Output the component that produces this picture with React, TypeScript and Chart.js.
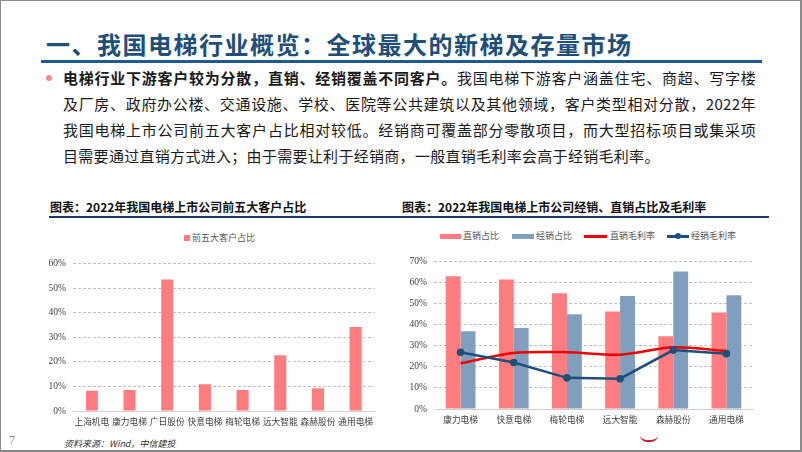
import React, { useEffect, useRef } from "react";
import { Chart, registerables } from "chart.js";

Chart.register(...registerables);

// ---------- data ----------
const leftCategories = ["上海机电", "康力电梯", "广日股份", "快意电梯", "梅轮电梯", "远大智能", "森赫股份", "通用电梯"];
const topFiveShare = [8.2, 8.6, 53.6, 10.9, 8.6, 22.7, 9.3, 34.2];
const leftLegendLabel = "前五大客户占比";
const leftYMax = 60;

const rightCategories = ["康力电梯", "快意电梯", "梅轮电梯", "远大智能", "森赫股份", "通用电梯"];
const directShare = [63.1, 61.5, 55.0, 46.3, 34.6, 45.9];
const distributorShare = [36.9, 38.5, 45.0, 53.7, 65.4, 54.1];
const directMargin = [21.7, 26.6, 27.0, 25.8, 29.3, 27.6];
const distributorMargin = [27.0, 22.1, 14.8, 14.4, 28.0, 26.3];
const rightSeriesLabels = ["直销占比", "经销占比", "直销毛利率", "经销毛利率"];
const rightYMax = 70;

const pageTitle = "一、我国电梯行业概览：全球最大的新梯及存量市场";
const leftChartTitle = "图表：2022年我国电梯上市公司前五大客户占比";
const rightChartTitle = "图表：2022年我国电梯上市公司经销、直销占比及毛利率";
const sourceText = "资料来源：Wind，中信建投";

// ---------- styles ----------
const CJK = '"Noto Sans CJK SC", sans-serif';
const SERIF = '"Liberation Serif", "Noto Sans CJK SC", serif';
const PINK = "#ff7c80";
const STEEL = "#809fbc";
const RED = "#f00000";
const NAVY = "#1f4e79";

function yAxis(max: number, width: number) {
  return {
    min: 0,
    max,
    ticks: {
      stepSize: 10,
      callback: (v: any) => v + "%",
      font: { family: SERIF, size: 9.5 },
      color: "#404040",
      padding: 7,
    },
    grid: { color: "#bfbfbf", drawTicks: false, lineWidth: 1 },
    border: { display: false, dash: [3, 2] },
    afterFit: (s: any) => {
      s.width = width;
    },
  };
}

function xAxis(height: number, pad: number) {
  return {
    grid: { display: false, drawTicks: false },
    border: { display: true, color: "#d0d0d0", width: 1 },
    ticks: {
      font: { family: CJK, size: 8.7 },
      color: "#404040",
      padding: pad,
      autoSkip: false,
      maxRotation: 0,
      minRotation: 0,
    },
    afterFit: (s: any) => {
      s.height = height;
    },
  };
}

export default function App() {
  const leftRef = useRef<HTMLCanvasElement>(null);
  const rightRef = useRef<HTMLCanvasElement>(null);

  useEffect(() => {
    const c1 = new Chart(leftRef.current as HTMLCanvasElement, {
      type: "bar",
      data: {
        labels: leftCategories,
        datasets: [
          {
            label: leftLegendLabel,
            data: topFiveShare,
            backgroundColor: PINK,
            barPercentage: 0.32,
            categoryPercentage: 1,
          },
        ],
      },
      options: {
        responsive: false,
        animation: false,
        devicePixelRatio: 1,
        layout: { padding: { top: 7, left: 0, right: 0, bottom: 0 } },
        plugins: { legend: { display: false }, tooltip: { enabled: false } },
        scales: {
          x: xAxis(22, 5) as any,
          y: yAxis(leftYMax, 52) as any,
        },
      },
    });

    const c2 = new Chart(rightRef.current as HTMLCanvasElement, {
      type: "bar",
      data: {
        labels: rightCategories,
        datasets: [
          {
            type: "bar",
            label: rightSeriesLabels[0],
            data: directShare,
            backgroundColor: PINK,
            barPercentage: 1,
            categoryPercentage: 0.56,
            order: 3,
          },
          {
            type: "bar",
            label: rightSeriesLabels[1],
            data: distributorShare,
            backgroundColor: STEEL,
            barPercentage: 1,
            categoryPercentage: 0.56,
            order: 3,
          },
          {
            type: "line",
            label: rightSeriesLabels[2],
            data: directMargin,
            borderColor: RED,
            backgroundColor: RED,
            borderWidth: 2.5,
            pointRadius: 0,
            tension: 0.3,
            order: 2,
          } as any,
          {
            type: "line",
            label: rightSeriesLabels[3],
            data: distributorMargin,
            borderColor: NAVY,
            backgroundColor: NAVY,
            borderWidth: 2.5,
            pointRadius: 3.8,
            pointBorderWidth: 0,
            tension: 0,
            order: 1,
          } as any,
        ],
      },
      options: {
        responsive: false,
        animation: false,
        devicePixelRatio: 1,
        layout: { padding: { top: 8, left: 0, right: 0, bottom: 0 } },
        plugins: { legend: { display: false }, tooltip: { enabled: false } },
        scales: {
          x: xAxis(22, 5) as any,
          y: yAxis(rightYMax, 33) as any,
        },
      },
    });

    return () => {
      c1.destroy();
      c2.destroy();
    };
  }, []);

  const bodyLine: React.CSSProperties = {
    position: "absolute",
    left: 62,
    width: 693,
    height: 26,
    lineHeight: "26px",
    fontSize: 15,
    letterSpacing: 0.3,
    color: "#1a1a1a",
    whiteSpace: "nowrap",
    textAlign: "justify",
    textAlignLast: "justify",
  };

  const legendText: React.CSSProperties = {
    position: "absolute",
    fontSize: 9,
    lineHeight: "12px",
    color: "#595959",
    fontFamily: CJK,
    whiteSpace: "nowrap",
  };

  return (
    <div
      style={{
        position: "fixed",
        left: 0,
        top: 0,
        width: 802,
        height: 452,
        background: "#fff",
        overflow: "hidden",
        fontFamily: CJK,
        boxSizing: "border-box",
        borderTop: "1px solid #8a8a8a",
        borderLeft: "1px solid #8a8a8a",
        borderRight: "2px solid #8a8a8a",
        borderBottom: "2px solid #8a8a8a",
      }}
    >
      {/* page title */}
      <div
        style={{
          position: "absolute",
          left: 45,
          top: 28,
          height: 30,
          lineHeight: "30px",
          fontSize: 24,
          fontWeight: 700,
          letterSpacing: 1.5,
          color: NAVY,
          whiteSpace: "nowrap",
        }}
      >
        {pageTitle}
      </div>
      <div style={{ position: "absolute", left: 40, top: 59, width: 721, height: 3, background: "#1f5a8e" }} />

      {/* bullet */}
      <div style={{ position: "absolute", left: 45, top: 74, width: 6, height: 6, borderRadius: 3, background: "#f08a8f" }} />

      <div style={{ ...bodyLine, top: 64 }}>
        <b>电梯行业下游客户较为分散，直销、经销覆盖不同客户。</b>我国电梯下游客户涵盖住宅、商超、写字楼
      </div>
      <div style={{ ...bodyLine, top: 90 }}>
        及厂房、政府办公楼、交通设施、学校、医院等公共建筑以及其他领域，客户类型相对分散，2022年
      </div>
      <div style={{ ...bodyLine, top: 116 }}>
        我国电梯上市公司前五大客户占比相对较低。经销商可覆盖部分零散项目，而大型招标项目或集采项
      </div>
      <div style={{ ...bodyLine, top: 142, textAlign: "left", textAlignLast: "left" }}>
        目需要通过直销方式进入；由于需要让利于经销商，一般直销毛利率会高于经销毛利率。
      </div>

      {/* chart headings */}
      <div
        style={{
          position: "absolute",
          left: 49,
          top: 198,
          lineHeight: "16px",
          fontSize: 12,
          fontWeight: 700,
          color: "#111",
          whiteSpace: "nowrap",
        }}
      >
        {leftChartTitle}
      </div>
      <div
        style={{
          position: "absolute",
          left: 401,
          top: 198,
          lineHeight: "16px",
          fontSize: 12,
          fontWeight: 700,
          color: "#111",
          whiteSpace: "nowrap",
        }}
      >
        {rightChartTitle}
      </div>
      <div style={{ position: "absolute", left: 48, top: 215, width: 720, height: 2, background: "#1f3864" }} />

      {/* left legend */}
      <div style={{ position: "absolute", left: 183, top: 234, width: 6, height: 6, background: PINK }} />
      <div style={{ ...legendText, left: 191, top: 231 }}>{leftLegendLabel}</div>

      {/* right legend */}
      <div style={{ position: "absolute", left: 439, top: 233, width: 21, height: 5, background: PINK }} />
      <div style={{ ...legendText, left: 462, top: 229 }}>{rightSeriesLabels[0]}</div>
      <div style={{ position: "absolute", left: 511, top: 233, width: 22, height: 5, background: STEEL }} />
      <div style={{ ...legendText, left: 535, top: 229 }}>{rightSeriesLabels[1]}</div>
      <div style={{ position: "absolute", left: 583, top: 234, width: 23, height: 2.5, background: RED }} />
      <div style={{ ...legendText, left: 609, top: 229 }}>{rightSeriesLabels[2]}</div>
      <div style={{ position: "absolute", left: 666, top: 234, width: 22, height: 2.5, background: NAVY }} />
      <div style={{ position: "absolute", left: 674, top: 232, width: 6, height: 6, borderRadius: 3, background: NAVY }} />
      <div style={{ ...legendText, left: 690, top: 229 }}>{rightSeriesLabels[3]}</div>

      {/* charts */}
      <canvas
        ref={leftRef}
        width={357}
        height={182}
        style={{ position: "absolute", left: 20, top: 250, width: 357, height: 182 }}
      />
      <canvas
        ref={rightRef}
        width={356}
        height={182}
        style={{ position: "absolute", left: 400, top: 248, width: 356, height: 182 }}
      />

      {/* footer */}
      <div
        style={{
          position: "absolute",
          left: 8,
          top: 431,
          lineHeight: "16px",
          fontSize: 12,
          fontFamily: SERIF,
          color: "#7f7f7f",
        }}
      >
        7
      </div>
      <div
        style={{
          position: "absolute",
          left: 63,
          top: 436,
          lineHeight: "14px",
          fontSize: 9,
          fontStyle: "italic",
          color: "#333",
          whiteSpace: "nowrap",
        }}
      >
        {sourceText}
      </div>
      <div
        style={{
          position: "absolute",
          left: 639,
          top: 434,
          width: 18,
          height: 7,
          boxSizing: "border-box",
          borderBottom: "2px solid #d0202a",
          borderRadius: "0 0 9px 9px",
        }}
      />
    </div>
  );
}
